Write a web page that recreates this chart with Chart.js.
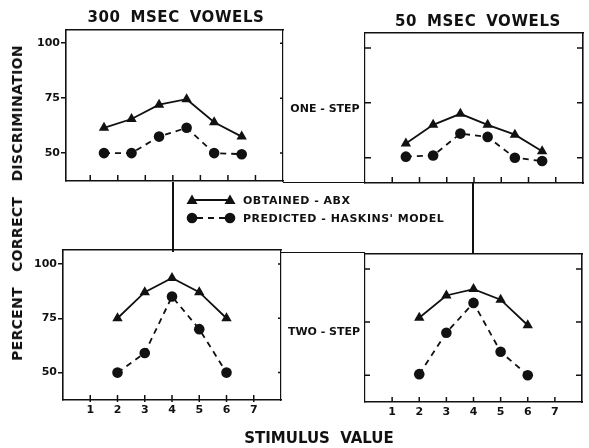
<!DOCTYPE html>
<html>
<head>
<meta charset="utf-8">
<script src="https://cdn.jsdelivr.net/npm/chart.js@4.4.1/dist/chart.umd.min.js"></script>
<style>
  html, body { margin: 0; padding: 0; background: #fff; }
  #fig { position: relative; width: 589px; height: 448px; overflow: hidden; font-family: 'DejaVu Sans', sans-serif; color: #111; }
  #fig canvas { position: absolute; left: 0; top: 0; }
  .lbl { position: absolute; white-space: nowrap; line-height: 1; transform: translate(-50%, -50%); font-weight: bold; }
  .big { font-size: 15px; letter-spacing: 0.6px; word-spacing: 4px; }
  .small { font-size: 11px; }
  .leg { position: absolute; left: 243px; white-space: nowrap; line-height: 1; transform: translateY(-50%); font-size: 11px; font-weight: bold; letter-spacing: 0.5px; }
  .line { position: absolute; background: #111; }
  #legendSym { position: absolute; left: 183px; top: 190px; }
</style>
</head>
<body>
<div id="fig">
  <canvas id="tl" width="589" height="448"></canvas>
  <canvas id="tr" width="589" height="448"></canvas>
  <canvas id="bl" width="589" height="448"></canvas>
  <canvas id="br" width="589" height="448"></canvas>

  <div class="lbl big" style="left:176px; top:17px;">300 MSEC VOWELS</div>
  <div class="lbl big" style="left:478px; top:21px;">50 MSEC VOWELS</div>
  <div class="lbl small" style="left:325px; top:108px;">ONE - STEP</div>
  <div class="lbl small" style="left:324px; top:331px;">TWO - STEP</div>
  <div class="lbl" style="left:17px; top:203px; font-size:14px; letter-spacing:0.3px; word-spacing:10px; transform: translate(-50%, -50%) rotate(-90deg);">PERCENT CORRECT DISCRIMINATION</div>
  <div class="lbl" style="left:319px; top:438px; font-size:15px; word-spacing:5px;">STIMULUS VALUE</div>

  <!-- legend box between the panels -->
  <div class="line" style="left:172px; top:182px; width:1.6px; height:70px;"></div>
  <div class="line" style="left:472px; top:183px; width:1.6px; height:71px;"></div>
  <div class="line" style="left:283px; top:181.5px; width:82px; height:1.6px;"></div>
  <div class="line" style="left:281px; top:251.5px; width:84px; height:1.6px;"></div>
  <svg id="legendSym" width="56" height="36">
    <line x1="9" y1="10" x2="47" y2="10" stroke="#111" stroke-width="1.8"/>
    <polygon points="9,4.5 14.5,14 3.5,14" fill="#111"/>
    <polygon points="47,4.5 52.5,14 41.5,14" fill="#111"/>
    <line x1="9" y1="28" x2="47" y2="28" stroke="#111" stroke-width="1.8" stroke-dasharray="6,5" stroke-dashoffset="-5"/>
    <circle cx="9" cy="28" r="5.3" fill="#111"/>
    <circle cx="47" cy="28" r="5.3" fill="#111"/>
  </svg>
  <div id="legObtained" class="leg" style="top:200px;"></div>
  <div id="legPredicted" class="leg" style="top:218px;"></div>
</div>
<script>
const W = 589, H = 448;
const ink = '#111';

// data
const xTicks = [1, 2, 3, 4, 5, 6, 7];
const yTicks = [50, 75, 100];
const seriesLabels = ['OBTAINED - ABX', "PREDICTED - HASKINS' MODEL"];
const oneStepX = [1.5, 2.5, 3.5, 4.5, 5.5, 6.5];
const twoStepX = [2, 3, 4, 5, 6];
const obtained300One = [61.5, 65.5, 72, 74.5, 64, 57.5];
const predicted300One = [50, 50, 57.5, 61.5, 50, 49.5];
const obtained50One = [56.5, 65, 70, 65, 60.5, 53];
const predicted50One = [50.5, 51, 61, 59.5, 50, 48.5];
const obtained300Two = [75, 87, 93.5, 87, 75];
const predicted300Two = [50, 59, 85, 70, 50];
const obtained50Two = [77, 87.5, 90.5, 85.5, 73.5];
const predicted50Two = [50.5, 70, 84, 61, 50];

document.getElementById('legObtained').textContent = seriesLabels[0];
document.getElementById('legPredicted').textContent = seriesLabels[1];

const tickFont = { family: 'DejaVu Sans', size: 11, weight: 'bold' };
const Y_AXIS_W = 40, X_AXIS_H = 20;

function pts(xs, ys) {
  return xs.map((x, i) => ({ x: x, y: ys[i] }));
}

// short tick marks drawn inward from the frame
const frameTicks = {
  id: 'frameTicks',
  afterDraw(chart, args, opts) {
    const { ctx, chartArea: a, scales } = chart;
    const x = scales.x, y = scales.y;
    ctx.save();
    ctx.strokeStyle = ink;
    ctx.lineWidth = 1.5;
    ctx.beginPath();
    if (opts.bottom) {
      x.ticks.forEach(t => {
        const px = x.getPixelForValue(t.value);
        ctx.moveTo(px, a.bottom + (opts.bottomOut || 0));
        ctx.lineTo(px, a.bottom - opts.bottom);
      });
    }
    y.ticks.forEach(t => {
      const py = y.getPixelForValue(t.value);
      if (opts.left) { ctx.moveTo(a.left, py); ctx.lineTo(a.left + opts.left, py); }
      if (opts.right) { ctx.moveTo(a.right, py); ctx.lineTo(a.right - opts.right, py); }
    });
    ctx.stroke();
    ctx.restore();
  }
};

function makePanel(id, box, xs, obtained, predicted, o) {
  const [L, T, R, B] = box;
  const yW = o.yLabels ? Y_AXIS_W : 0;
  const xH = o.xLabels ? X_AXIS_H : 0;
  return new Chart(document.getElementById(id), {
    type: 'line',
    data: {
      datasets: [{
        label: seriesLabels[0],
        data: pts(xs, obtained),
        borderColor: ink, backgroundColor: ink, borderWidth: 1.8,
        pointStyle: 'triangle', pointRadius: 6, pointBorderWidth: 0
      }, {
        label: seriesLabels[1],
        data: pts(xs, predicted),
        borderColor: ink, backgroundColor: ink, borderWidth: 1.8, borderDash: [6, 5],
        pointStyle: 'circle', pointRadius: 5.3, pointBorderWidth: 0
      }]
    },
    options: {
      responsive: false,
      animation: false,
      events: [],
      layout: { padding: { left: L - yW, top: T, right: W - R, bottom: H - B - xH } },
      plugins: { legend: { display: false }, tooltip: { enabled: false }, frameTicks: o.ticks },
      scales: {
        x: {
          type: 'linear', position: 'bottom', min: o.xMin, max: 8,
          afterBuildTicks: s => { s.ticks = xTicks.map(v => ({ value: v })); },
          afterFit: s => { s.height = xH; },
          grid: { display: false, drawTicks: false },
          border: { color: ink, width: 1.6 },
          ticks: { display: o.xLabels, padding: 4, color: ink, font: tickFont, autoSkip: false, maxRotation: 0 }
        },
        xTop: {
          type: 'linear', position: 'top', display: true,
          afterFit: s => { s.height = 0; },
          grid: { display: false, drawTicks: false },
          border: { color: ink, width: 1.6 },
          ticks: { display: false }
        },
        y: {
          type: 'linear', position: 'left', min: o.yMin, max: o.yMax,
          afterBuildTicks: s => { s.ticks = yTicks.map(v => ({ value: v })); },
          afterFit: s => { s.width = yW; },
          grid: { display: o.yLabels, drawOnChartArea: false, drawTicks: o.yLabels, tickLength: 5, color: ink, lineWidth: 1.5 },
          border: { color: ink, width: o.leftDash ? 1.2 : 1.6, dash: o.leftDash || [] },
          ticks: { display: o.yLabels, padding: 1, color: ink, font: tickFont, autoSkip: false }
        },
        yRight: {
          type: 'linear', position: 'right', display: true,
          afterFit: s => { s.width = 0; },
          grid: { display: false, drawTicks: false },
          border: { color: ink, width: o.rightDash ? 1.2 : 1.6, dash: o.rightDash || [] },
          ticks: { display: false }
        }
      }
    },
    plugins: [frameTicks]
  });
}

makePanel('tl', [66, 30, 283, 181], oneStepX, obtained300One, predicted300One, {
  xMin: 0.12, yMin: 37.3, yMax: 106, xLabels: false, yLabels: true,
  rightDash: [2, 2], ticks: { bottom: 6, right: 3 }
});
makePanel('tr', [365, 33, 583, 183], oneStepX, obtained50One, predicted50One, {
  xMin: 0, yMin: 38.5, yMax: 106.8, xLabels: false, yLabels: false,
  leftDash: [5, 2], ticks: { bottom: 6, left: 6, right: 6 }
});
makePanel('bl', [63, 250, 281, 400], twoStepX, obtained300Two, predicted300Two, {
  xMin: 0, yMin: 37.4, yMax: 106.4, xLabels: true, yLabels: true,
  rightDash: [2, 2], ticks: { bottom: 5, bottomOut: 2, right: 3 }
});
makePanel('br', [365, 254, 582, 402], twoStepX, obtained50Two, predicted50Two, {
  xMin: 0, yMin: 37.4, yMax: 107, xLabels: true, yLabels: false,
  leftDash: [2, 2], ticks: { bottom: 5, left: 5, right: 6 }
});
</script>
</body>
</html>
